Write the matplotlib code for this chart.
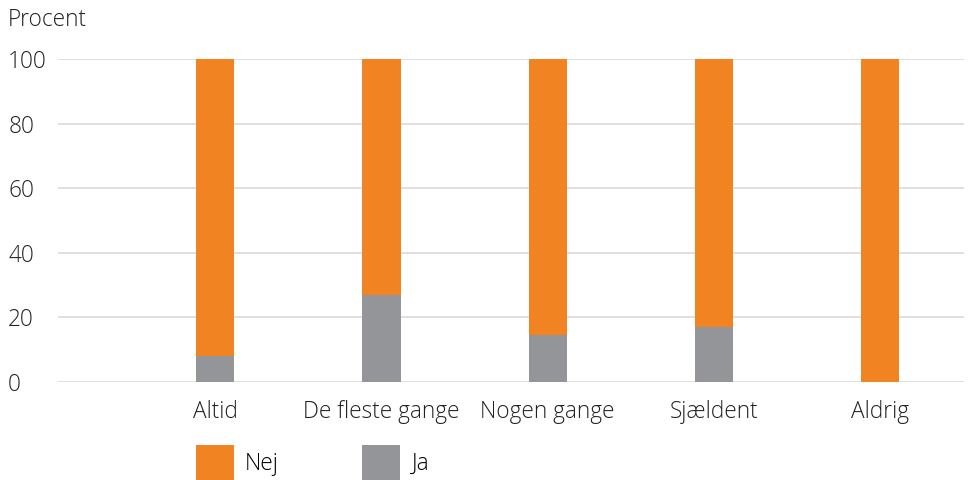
import matplotlib.pyplot as plt
import numpy as np

# Data
categories = ["Altid", "De fleste gange", "Nogen gange", "Sjældent", "Aldrig"]
ja = np.array([8, 27, 14.5, 17, 0])
nej = 100 - ja
yticks = [0, 20, 40, 60, 80, 100]

orange = "#F28322"
grey = "#939598"

plt.rcParams["font.family"] = ["Open Sans", "DejaVu Sans"]
plt.rcParams["font.weight"] = "light"

fs = 16.3

fig = plt.figure(figsize=(9.68, 4.8), dpi=100)
ax = fig.add_axes([0.06, 0.204, 0.936, 0.673])

x = np.arange(len(categories))
bar_width = 0.23
b_ja = ax.bar(x, ja, width=bar_width, color=grey, label="Ja", zorder=3)
b_nej = ax.bar(x, nej, bottom=ja, width=bar_width, color=orange, label="Nej", zorder=3)

ax.set_xlim(-0.946, 4.506)
ax.set_ylim(0, 100)
ax.set_yticks(yticks)
ax.set_xticks(x)
ax.set_xticklabels(categories)
ax.tick_params(axis="both", length=0, labelsize=fs, colors="#222222")
ax.tick_params(axis="x", pad=13)
ax.tick_params(axis="y", pad=0)
for lbl in ax.get_yticklabels():
    lbl.set_horizontalalignment("left")
    lbl.set_x(-0.055)

ax.grid(axis="y", color="#d9d9d9", linewidth=1.2, zorder=0)
for s in ax.spines.values():
    s.set_visible(False)

fig.text(0.008, 0.959, "Procent", fontsize=fs, color="#222222", va="center", ha="left")

leg = fig.legend(handles=[b_nej, b_ja], labels=["Nej", "Ja"], ncol=2,
                 loc="center left", bbox_to_anchor=(0.202, 0.036),
                 frameon=False, fontsize=fs, handlelength=1.68, handleheight=2.0,
                 handletextpad=0.5, columnspacing=3.68, borderaxespad=0, borderpad=0)

plt.savefig("out.png", dpi=100)
